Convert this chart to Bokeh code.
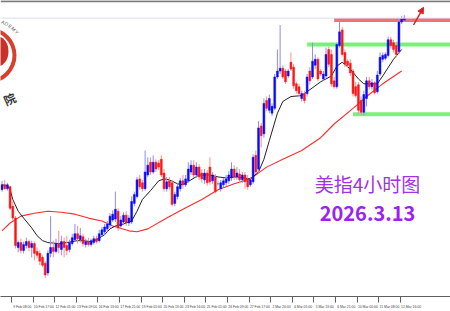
from bokeh.plotting import figure
from bokeh.models import Range1d, FixedTicker, Span, Label, Arrow, NormalHead, ColumnDataSource
from bokeh.embed import file_html
from bokeh.resources import INLINE
import math

# ---- US dollar index, 4-hour candles ----
open_ = [97.07, 97.12, 97.08, 97.10, 96.90, 96.78, 96.48, 96.53, 96.45, 96.50,
         96.54, 96.48, 96.52, 96.44, 96.42, 96.38, 96.32, 96.22, 96.42, 96.48,
         96.44, 96.52, 96.46, 96.54, 96.50, 96.46, 96.52, 96.56, 96.62, 96.56,
         96.59, 96.51, 96.54, 96.51, 96.53, 96.57, 96.55, 96.61, 96.64, 96.67,
         96.71, 96.76, 96.77, 96.85, 96.70, 96.74, 96.81, 96.73, 96.74, 96.93,
         97.00, 97.18, 97.14, 97.08, 97.22, 97.35, 97.25, 97.35, 97.34, 97.38,
         97.24, 97.08, 97.16, 97.14, 96.93, 97.00, 97.08, 97.16, 97.12, 97.16,
         97.25, 97.32, 97.22, 97.30, 97.24, 97.17, 97.24, 97.30, 97.16, 97.20,
         97.13, 97.08, 97.12, 97.14, 97.16, 97.19, 97.28, 97.20, 97.23, 97.17,
         97.22, 97.18, 97.12, 97.15, 97.42, 97.28, 97.72, 97.64, 97.98, 97.88,
         97.85, 97.90, 98.22, 98.28, 98.31, 98.28, 98.23, 98.37, 98.32, 98.15,
         98.12, 98.00, 98.05, 98.05, 98.28, 98.22, 98.34, 98.40, 98.28, 98.20,
         98.23, 98.50, 98.45, 98.18, 98.12, 98.54, 98.70, 98.47, 98.38, 98.36,
         98.28, 98.12, 98.14, 97.98, 97.86, 98.00, 98.18, 98.12, 98.16, 98.07,
         98.25, 98.40, 98.41, 98.44, 98.60, 98.57, 98.54, 98.48, 98.78, 98.80]
high = [97.16, 97.17, 97.14, 97.11, 96.95, 96.80, 96.55, 96.57, 96.54, 96.58,
        96.56, 96.55, 96.54, 96.48, 96.45, 96.40, 96.34, 96.45, 96.80, 96.55,
        96.57, 96.65, 96.60, 96.58, 96.60, 96.56, 96.62, 96.72, 96.70, 96.68,
        96.62, 96.57, 96.58, 96.57, 96.60, 96.60, 96.66, 96.69, 96.72, 96.75,
        96.83, 96.86, 97.05, 96.88, 96.80, 96.84, 96.85, 96.81, 97.00, 97.05,
        97.20, 97.22, 97.17, 97.47, 97.40, 97.40, 97.42, 97.38, 97.37, 97.42,
        97.28, 97.20, 97.20, 97.17, 97.05, 97.14, 97.19, 97.22, 97.22, 97.35,
        97.37, 97.37, 97.35, 97.33, 97.28, 97.28, 97.27, 97.40, 97.25, 97.23,
        97.16, 97.17, 97.19, 97.22, 97.26, 97.35, 97.32, 97.30, 97.28, 97.25,
        97.25, 97.22, 97.20, 97.43, 97.47, 97.77, 97.75, 98.00, 98.02, 98.04,
        97.95, 98.25, 98.50, 98.75, 98.34, 98.30, 98.30, 98.47, 98.35, 98.17,
        98.15, 98.08, 98.08, 98.25, 98.32, 98.57, 98.45, 98.42, 98.30, 98.28,
        98.52, 98.53, 98.50, 98.22, 98.57, 98.78, 98.73, 98.50, 98.40, 98.40,
        98.30, 98.17, 98.17, 98.02, 98.08, 98.22, 98.22, 98.20, 98.18, 98.28,
        98.47, 98.47, 98.47, 98.63, 98.63, 98.60, 98.58, 98.82, 98.84, 98.85]
low = [97.05, 97.07, 97.06, 96.86, 96.75, 96.47, 96.43, 96.42, 96.42, 96.47,
       96.44, 96.38, 96.35, 96.37, 96.30, 96.28, 96.17, 96.19, 96.38, 96.38,
       96.42, 96.42, 96.40, 96.38, 96.40, 96.43, 96.50, 96.54, 96.52, 96.53,
       96.49, 96.48, 96.49, 96.49, 96.51, 96.52, 96.53, 96.59, 96.61, 96.64,
       96.68, 96.74, 96.74, 96.65, 96.67, 96.71, 96.70, 96.70, 96.72, 96.90,
       96.98, 97.07, 97.05, 97.06, 97.20, 97.22, 97.23, 97.25, 97.27, 97.20,
       97.05, 97.05, 97.07, 96.90, 96.90, 96.97, 97.05, 97.08, 97.10, 97.14,
       97.22, 97.19, 97.19, 97.17, 97.14, 97.13, 97.11, 97.12, 97.13, 97.03,
       97.11, 97.05, 97.09, 97.11, 97.13, 97.16, 97.17, 97.17, 97.14, 97.14,
       97.08, 97.07, 97.10, 97.13, 97.23, 97.24, 97.50, 97.60, 97.87, 97.85,
       97.82, 97.88, 98.20, 98.25, 98.20, 98.15, 98.21, 98.28, 98.10, 98.05,
       98.02, 97.97, 97.95, 98.02, 98.14, 98.20, 98.30, 98.18, 98.23, 98.18,
       98.21, 98.32, 98.12, 98.10, 98.10, 98.52, 98.43, 98.32, 98.32, 98.23,
       98.02, 98.01, 97.84, 97.83, 97.83, 97.92, 98.09, 98.09, 98.04, 98.05,
       98.23, 98.37, 98.39, 98.42, 98.51, 98.47, 98.42, 98.45, 98.76, 98.79]
close = [97.12, 97.08, 97.12, 96.88, 96.78, 96.50, 96.53, 96.45, 96.51, 96.54,
         96.48, 96.52, 96.42, 96.40, 96.34, 96.30, 96.20, 96.42, 96.48, 96.44,
         96.52, 96.48, 96.54, 96.48, 96.45, 96.53, 96.58, 96.62, 96.57, 96.60,
         96.52, 96.54, 96.51, 96.55, 96.57, 96.54, 96.62, 96.66, 96.69, 96.72,
         96.80, 96.82, 96.87, 96.68, 96.76, 96.81, 96.73, 96.78, 96.95, 97.02,
         97.17, 97.10, 97.08, 97.25, 97.32, 97.25, 97.35, 97.28, 97.30, 97.22,
         97.08, 97.15, 97.10, 96.92, 97.02, 97.10, 97.16, 97.12, 97.18, 97.28,
         97.32, 97.22, 97.30, 97.20, 97.18, 97.24, 97.14, 97.15, 97.22, 97.05,
         97.13, 97.14, 97.16, 97.18, 97.22, 97.28, 97.20, 97.24, 97.17, 97.22,
         97.15, 97.10, 97.17, 97.40, 97.25, 97.70, 97.62, 97.95, 97.90, 98.00,
         97.92, 98.22, 98.28, 98.31, 98.22, 98.17, 98.28, 98.30, 98.13, 98.08,
         98.05, 98.05, 97.98, 98.22, 98.18, 98.38, 98.40, 98.20, 98.25, 98.25,
         98.45, 98.35, 98.15, 98.12, 98.55, 98.68, 98.45, 98.35, 98.34, 98.26,
         98.05, 98.03, 97.88, 97.86, 98.04, 98.18, 98.12, 98.16, 98.06, 98.24,
         98.42, 98.44, 98.45, 98.60, 98.54, 98.50, 98.45, 98.78, 98.81, 98.82]

# fast (black) moving average, read at bar positions
fast_ma_bar = [0, 2, 3, 4, 6, 8, 11, 13, 15, 17, 21, 24, 28, 30, 33, 35, 38, 40, 42, 45,
               48, 50, 52, 55, 58, 60, 62, 65, 67, 70, 73, 77, 80, 83, 87, 92, 95, 97, 99, 102,
               104, 107, 111, 113, 118, 122, 124, 126, 129, 132, 134, 136, 139, 141, 145, 148]
fast_ma = [97.12, 97.11, 97.07, 96.97, 96.85, 96.78, 96.68, 96.60, 96.55, 96.53,
           96.52, 96.53, 96.55, 96.55, 96.54, 96.56, 96.61, 96.67, 96.70, 96.72,
           96.75, 96.85, 96.97, 97.06, 97.16, 97.18, 97.17, 97.13, 97.12, 97.17,
           97.22, 97.22, 97.20, 97.19, 97.20, 97.18, 97.25, 97.38, 97.57, 97.85,
           97.97, 98.02, 98.03, 98.07, 98.17, 98.23, 98.33, 98.37, 98.30, 98.20,
           98.15, 98.15, 98.15, 98.23, 98.40, 98.50]
# slow (red) moving average
slow_ma_bar = [0, 3, 7, 12, 17, 22, 27, 32, 37, 41, 47, 50, 54, 61, 67, 74, 80, 86, 92, 98,
               104, 111, 118, 123, 130, 135, 141, 148]
slow_ma = [96.65, 96.73, 96.80, 96.83, 96.85, 96.84, 96.82, 96.78, 96.75, 96.70,
           96.65, 96.64, 96.67, 96.78, 96.87, 96.97, 97.07, 97.13, 97.18, 97.30,
           97.38, 97.47, 97.60, 97.74, 97.90, 98.02, 98.15, 98.28]

# drawn horizontal levels: price, first bar
level_price = [98.80, 98.55, 97.84]
level_from = [123, 113, 130]
level_color = ["#f27272", "#7af27a", "#7af27a"]

# time axis
tick_bars = [4, 12, 20, 28, 36, 44, 52, 60, 68, 76, 84, 92, 100, 108, 116, 124, 132, 140, 148]
tick_labels = ["9 Feb 08:00", "10 Feb 17:00", "12 Feb 01:00", "13 Feb 09:00", "16 Feb 13:00",
               "17 Feb 21:00", "19 Feb 05:00", "20 Feb 13:00", "23 Feb 16:00", "25 Feb 01:00",
               "26 Feb 09:00", "27 Feb 17:00", "2 Mar 20:00", "4 Mar 05:00", "5 Mar 13:00",
               "6 Mar 21:00", "10 Mar 00:00", "11 Mar 08:00", "12 Mar 16:00"]

title_cn = "美指4小时图"
date_text = "2026.3.13"

# ---------------------------------------------------------------
BLUE, RED, GREEN = "#0a0aff", "#ff1414", "#00b400"
n = len(close)
bc, wc = [], []
for o, c in zip(open_, close):
    if c > o:
        bc.append(BLUE); wc.append("#8c8cff")
    elif c < o:
        bc.append(RED); wc.append("#ff8c8c")
    else:
        bc.append(GREEN); wc.append("#70d870")

src = ColumnDataSource(dict(
    x=list(range(n)), h=high, l=low,
    top=[max(a, b) for a, b in zip(open_, close)],
    bot=[min(a, b) for a, b in zip(open_, close)],
    bc=bc, wc=wc))

X0, X1 = -0.556, 166.1
Y0, Y1 = 95.98, 99.0


def px(xp, yp):
    """picture pixel -> data coordinates (layout helper for decorations)"""
    return (xp - 1.5) / 2.7, 99 - yp / 100.0


p = figure(width=450, height=311, x_range=Range1d(X0, X1), y_range=Range1d(Y0, Y1),
           output_backend="svg", toolbar_location=None, y_axis_location=None,
           min_border_left=0, min_border_right=0, min_border_top=0, min_border_bottom=0,
           background_fill_color="white", border_fill_color="white")
p.outline_line_color = None
p.grid.visible = False

# top border and faint line
p.add_layout(Span(location=Y1 - 0.008, dimension="width", line_color="#7a7a7a", line_width=2))
p.add_layout(Span(location=98.82, dimension="width", line_color="#dcdcf0", line_width=1))

# logo (partially visible)
lx, ly = px(-12, 56)
p.annulus(x=[lx], y=[ly], inner_radius=24, outer_radius=28,
          inner_radius_units="screen", outer_radius_units="screen",
          fill_color="#d8402e", line_color=None)
ex, ey = px(-3, 52)
p.ellipse(x=[ex], y=[ey], width=22, height=30, width_units="screen", height_units="screen",
          fill_color="#c8302a", line_color=None)
for ch, ang in zip("ADEMY", [67, 61, 54, 47, 40]):
    r = 37
    cx = -12 + r * math.cos(math.radians(ang))
    cy = 56 - r * math.sin(math.radians(ang))
    qx, qy = px(cx, cy)
    p.add_layout(Label(x=qx, y=qy, text=ch, text_font="Liberation Sans", text_font_size="5px",
                       text_color="#555555", text_align="center", text_baseline="middle",
                       angle=math.radians(ang - 90)))
qx, qy = px(9, 100)
p.add_layout(Label(x=qx, y=qy, text="院", text_font="Noto Sans CJK SC", text_font_size="12px",
                   text_font_style="bold", text_color="#3a3a3a", text_align="center",
                   text_baseline="middle", angle=math.radians(24)))

# horizontal levels
p.segment(x0=level_from, y0=level_price, x1=[X1] * len(level_from), y1=level_price,
          line_color=level_color, line_width=4)

# moving averages
p.line(slow_ma_bar, slow_ma, line_color="#ff2a2a", line_width=1.1)
p.line(fast_ma_bar, fast_ma, line_color="#222222", line_width=1)

# candles
p.segment(x0="x", y0="h", x1="x", y1="l", line_color="wc", line_width=1, source=src)
p.vbar(x="x", top="top", bottom="bot", width=0.7, fill_color="bc", line_color="bc",
       line_width=0.5, source=src)

# arrow
ax0, ay0 = px(413, 25)
ax1, ay1 = px(423, 7)
p.add_layout(Arrow(x_start=ax0, y_start=ay0, x_end=ax1, y_end=ay1, line_color="#d82020",
                   line_width=1.5,
                   end=NormalHead(size=6, fill_color="#d82020", line_color="#d82020")))

# texts
tx, ty = px(367, 187)
p.add_layout(Label(x=tx, y=ty, text=title_cn, text_font="Noto Sans CJK SC", text_font_size="19px",
                   text_color="#a033e6", text_align="center", text_baseline="middle"))
tx, ty = px(367, 217)
p.add_layout(Label(x=tx, y=ty, text=date_text, text_font="Noto Sans CJK SC", text_font_size="20px",
                   text_font_style="bold", text_color="#9b22f0", text_align="center",
                   text_baseline="middle"))

# x axis
xa = p.xaxis[0]
xa.ticker = FixedTicker(ticks=[b + 3.5 for b in tick_bars], minor_ticks=[b - 0.5 for b in tick_bars])
xa.major_label_overrides = {b + 3.5: t for b, t in zip(tick_bars, tick_labels)}
xa.major_tick_out = 0
xa.major_tick_in = 0
xa.minor_tick_out = 6
xa.minor_tick_in = 0
xa.minor_tick_line_color = "#606060"
xa.axis_line_color = "#606060"
xa.major_label_text_font = "Liberation Sans"
xa.major_label_text_font_size = "3.4px"
xa.major_label_text_color = "#404040"
xa.major_label_standoff = 2

open("out.html", "w").write(file_html(p, INLINE))
